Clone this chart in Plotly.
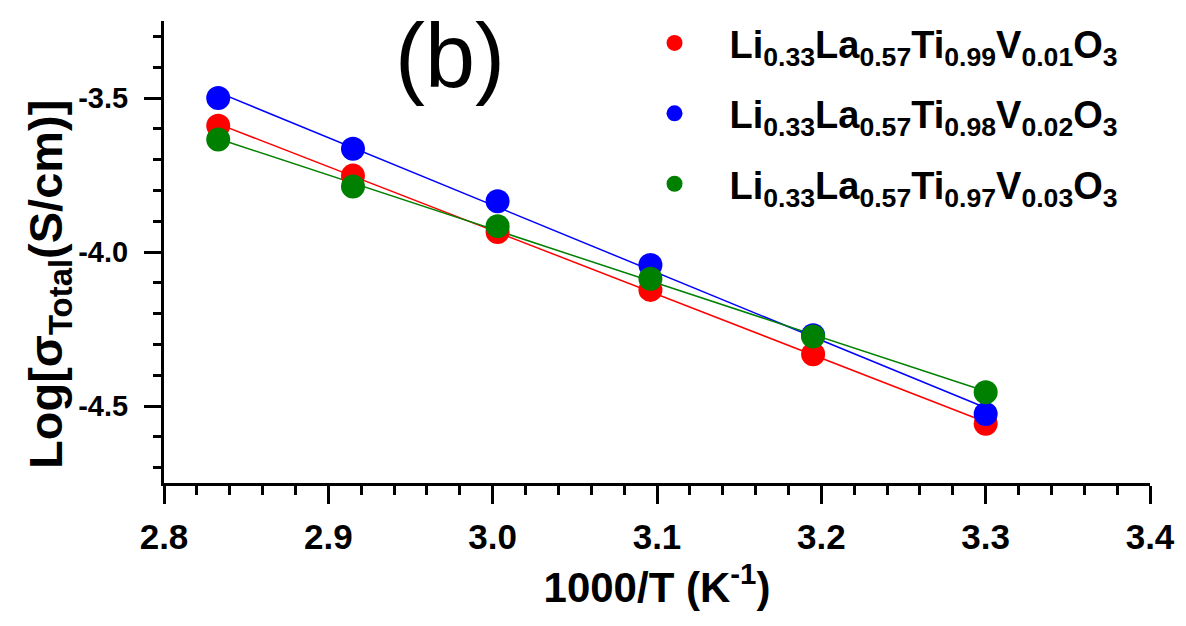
import numpy as np
import plotly.graph_objects as go

# 1000/T values (K^-1) for the six measurement temperatures
inv_T = [2.833, 2.915, 3.003, 3.096, 3.195, 3.300]

# log of total conductivity (S/cm) for each composition
log_sigma_v001 = [-3.590, -3.752, -3.935, -4.123, -4.332, -4.558]
log_sigma_v002 = [-3.500, -3.665, -3.835, -4.042, -4.270, -4.526]
log_sigma_v003 = [-3.635, -3.787, -3.916, -4.087, -4.274, -4.455]

# axis tick labels
x_ticks = [2.8, 2.9, 3.0, 3.1, 3.2, 3.3, 3.4]
x_ticklabels = ["2.8", "2.9", "3.0", "3.1", "3.2", "3.3", "3.4"]
y_ticks = [-3.5, -4.0, -4.5]
y_ticklabels = ["-3.5", "-4.0", "-4.5"]

names = [
    "Li<sub>0.33</sub>La<sub>0.57</sub>Ti<sub>0.99</sub>V<sub>0.01</sub>O<sub>3</sub>",
    "Li<sub>0.33</sub>La<sub>0.57</sub>Ti<sub>0.98</sub>V<sub>0.02</sub>O<sub>3</sub>",
    "Li<sub>0.33</sub>La<sub>0.57</sub>Ti<sub>0.97</sub>V<sub>0.03</sub>O<sub>3</sub>",
]
colors = ["#ff0000", "#0000ff", "#008000"]
series = [log_sigma_v001, log_sigma_v002, log_sigma_v003]

FONT = "Liberation Sans, Arial, sans-serif"

fig = go.Figure()

x = np.array(inv_T)
# Arrhenius linear fits, drawn first so the points sit on top
for ys, c in zip(series, colors):
    slope, icpt = np.polyfit(x, np.array(ys), 1)
    xf = np.array([x.min(), x.max()])
    fig.add_trace(go.Scatter(x=xf, y=slope * xf + icpt, mode="lines",
                             line=dict(color=c, width=1.5),
                             showlegend=False, hoverinfo="skip"))

for i, (ys, c, n) in enumerate(zip(series, colors, names)):
    fig.add_trace(go.Scatter(x=inv_T, y=ys, mode="markers", name=n,
                             legendgroup=f"g{i}",
                             marker=dict(color=c, size=24, line=dict(width=0))))

axis_common = dict(showline=True, linecolor="black", linewidth=3,
                   ticks="outside", tickcolor="black", tickwidth=3,
                   showgrid=False, zeroline=False)

fig.update_xaxes(**axis_common, range=[2.8, 3.4],
                 tickmode="array", tickvals=x_ticks, ticktext=x_ticklabels,
                 ticklen=18,
                 minor=dict(ticks="outside", dtick=0.02, tick0=2.8, ticklen=9,
                            tickwidth=3, tickcolor="black"),
                 tickfont=dict(family=FONT, size=35, color="black", weight="bold"),
                 ticklabelstandoff=3,
                 title=dict(text="1000/T (K<sup>-1</sup>)", standoff=18,
                            font=dict(family=FONT, size=42, color="black", weight="bold")))

fig.update_yaxes(**axis_common, range=[-4.75, -3.25],
                 tickmode="array", tickvals=y_ticks, ticktext=y_ticklabels,
                 ticklen=17,
                 minor=dict(ticks="outside", dtick=0.1, tick0=-3.5, ticklen=8,
                            tickwidth=3, tickcolor="black"),
                 tickfont=dict(family=FONT, size=29, color="black", weight="bold"),
                 ticklabelstandoff=10)

# y-axis title placed as a rotated annotation
fig.add_annotation(text="Log[σ<sub>Total</sub>(S/cm)]", xref="paper", yref="paper",
                   x=-0.116, y=0.43, textangle=-90, showarrow=False,
                   xanchor="center", yanchor="middle",
                   font=dict(family=FONT, size=47, color="black", weight="bold"))

fig.add_annotation(text="(b)", xref="paper", yref="paper", x=0.29, y=0.925,
                   showarrow=False, xanchor="center", yanchor="middle",
                   font=dict(family=FONT, size=90, color="black"))

fig.update_layout(
    width=1186, height=626,
    margin=dict(l=164, r=36, t=18, b=143),
    paper_bgcolor="white", plot_bgcolor="white",
    showlegend=True,
    legend=dict(x=0.462, y=1.02, xanchor="left", yanchor="top",
                bgcolor="rgba(0,0,0,0)", itemwidth=100,
                traceorder="grouped", tracegroupgap=18,
                font=dict(family=FONT, size=38, color="black", weight="bold")),
)

fig.write_html("out.html")
